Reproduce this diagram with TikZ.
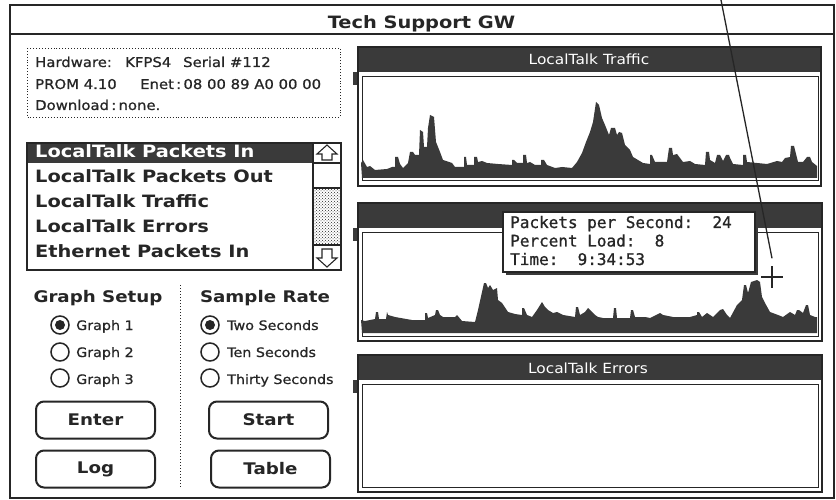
\documentclass[tikz,border=0pt]{standalone}
\usepackage{fontspec}
\setmainfont{DejaVu Sans}
\newfontfamily\chicago{DejaVu Sans}[FakeStretch=1.14]
\newfontfamily\geneva{DejaVu Sans}[FakeStretch=1.1,FakeBold=0.8]
\newfontfamily\genevaw{DejaVu Sans}[FakeStretch=1.1]
\newfontfamily\monaco{DejaVu Sans Mono}[FakeBold=1]
\usetikzlibrary{patterns}
\definecolor{ink}{RGB}{38,38,38}
\definecolor{macdark}{RGB}{58,58,58}
\begin{document}
\begin{tikzpicture}[x=1pt,y=-1pt,
  bigtxt/.style={font=\chicago\bfseries\fontsize{17}{19}\selectfont, text=ink, inner sep=0pt},
  hdr/.style={font=\chicago\bfseries\fontsize{16}{18}\selectfont, text=ink, inner sep=0pt},
  listtxt/.style={font=\chicago\bfseries\fontsize{17}{19}\selectfont, text=ink, inner sep=0pt, anchor=base west},
  small/.style={font=\geneva\fontsize{13.5}{15}\selectfont, text=ink, inner sep=0pt, anchor=base west},
  lbl/.style={font=\geneva\fontsize{13}{15}\selectfont, text=ink, inner sep=0pt, anchor=base west},
  ptitle/.style={font=\genevaw\fontsize{14}{16}\selectfont, text=white, inner sep=0pt, anchor=base},
  mono/.style={font=\monaco\fontsize{16}{18}\selectfont, text=ink, inner sep=0pt, anchor=base west},
  radio/.style={circle, draw=ink, line width=1.5, minimum size=18pt, inner sep=0pt},
  button/.style={draw=ink, line width=2, rounded corners=8pt, minimum width=119pt, minimum height=37pt, inner sep=0pt, font=\chicago\bfseries\fontsize{16}{18}\selectfont, text=ink},
  frameline/.style={draw=ink, line width=1.6},
  innerline/.style={draw=ink, line width=1},
  bar/.style={fill=macdark}
]
\useasboundingbox (0,0) rectangle (836,500);
\fill[white] (0,0) rectangle (836,500);

% window
\draw[ink, line width=1.6] (10,5) rectangle (834,498);
\draw[ink, line width=1.4] (10,34) -- (834,34);
\node[bigtxt, anchor=base] (title) at (421.5,29) {Tech Support GW};

% info box
\draw[ink, dotted, line width=0.9] (27,48) rectangle (340,117);
\node[small] (hw) at (35,67) {Hardware:};
\node[small] (kf) at (125,67) {KFPS4};
\node[small] (ser) at (183,67) {Serial \#112};
\node[small] (prom) at (35,89) {PROM 4.10};
\node[small] (enet) at (140,89) {Enet\,:\,08 00 89 A0 00 00};
\node[small] (dl) at (35,110) {Download\,:\,none.};

% list box
\fill[macdark] (27,143) rectangle (313,163);
\fill[pattern=crosshatch dots, pattern color=ink] (313,188) rectangle (341,245);
\draw[ink, line width=1.5] (27,143) rectangle (341,270);
\draw[ink, line width=1.2] (313,143) -- (313,270);
\draw[ink, line width=1.1] (313,163) -- (341,163) (313,188) -- (341,188) (313,245) -- (341,245);
\draw[ink, line width=1.1] (327,145) -- (337,154) -- (332,154) -- (332,160) -- (322,160) -- (322,154) -- (317,154) -- cycle;
\draw[ink, line width=1.1] (327,267) -- (337,258) -- (332,258) -- (332,249) -- (322,249) -- (322,258) -- (317,258) -- cycle;
\node[listtxt, text=white] (li1) at (35,157.5) {LocalTalk Packets In};
\node[listtxt] (li2) at (35,182.5) {LocalTalk Packets Out};
\node[listtxt] (li3) at (35,207.5) {LocalTalk Traffic};
\node[listtxt] (li4) at (35,232.5) {LocalTalk Errors};
\node[listtxt] (li5) at (35,257.5) {Ethernet Packets In};

% headers
\node[hdr, anchor=base] (gs) at (98,302) {Graph Setup};
\node[hdr, anchor=base] (sr) at (265,302) {Sample Rate};
\draw[ink, dotted, line width=1] (180,285) -- (180,488);

% radios
\node[radio] (ga) at (60,325) {};
\fill[ink] (ga) circle (5);
\node[radio] (gb) at (60,352) {};
\node[radio] (gc) at (60,378) {};
\node[lbl] (gal) at (76,330) {Graph 1};
\node[lbl] (gbl) at (76,357) {Graph 2};
\node[lbl] (gcl) at (76,384) {Graph 3};
\node[radio] (sa) at (210,325) {};
\fill[ink] (sa) circle (5);
\node[radio] (sb) at (210,352) {};
\node[radio] (sc) at (210,378) {};
\node[lbl] (sal) at (227,330) {Two Seconds};
\node[lbl] (sbl) at (227,357) {Ten Seconds};
\node[lbl] (scl) at (227,384) {Thirty Seconds};

% buttons
\node[button] (enter) at (95.5,420) {Enter};
\node[button] (log) at (95.5,469) {Log};
\node[button] (start) at (268.5,420) {Start};
\node[button] (table) at (270.5,469) {Table};

% panel 1
\fill[macdark] (358,47) rectangle (821,72);
\fill[macdark] (353,72) rectangle (359,85);
\draw[frameline] (358,47) rectangle (821,186);
\draw[innerline] (362,77) rectangle (818,181);
\fill[bar] (362,178) -- (361,163) -- (363,160) -- (367,167) -- (370,166) -- (375,170) -- (387,169) -- (392,167) -- (395,167) -- (395,157) -- (398,157) -- (400,164) -- (403,168) -- (408,163) -- (410,152) -- (413,152) -- (415,155) -- (419,155) -- (420,130) -- (423,132) -- (424,147) -- (427,147) -- (428,128) -- (430,115) -- (434,117) -- (436,142) -- (440,152) -- (443,160) -- (452,163) -- (455,167) -- (464,167) -- (464,157) -- (466,157) -- (467,165) -- (474,165) -- (474,157) -- (477,157) -- (478,162) -- (482,161) -- (487,163) -- (498,164) -- (512,165) -- (512,160) -- (514,160) -- (517,163) -- (523,163) -- (523,155) -- (526,155) -- (527,163) -- (530,162) -- (535,165) -- (541,165) -- (541,160) -- (544,160) -- (547,165) -- (555,168) -- (562,167) -- (572,168) -- (577,162) -- (582,153) -- (586,142) -- (590,132) -- (593,122) -- (596,102) -- (599,105) -- (602,118) -- (605,125) -- (609,135) -- (611,128) -- (615,128) -- (617,135) -- (619,132) -- (622,133) -- (625,145) -- (630,150) -- (633,157) -- (643,163) -- (650,164) -- (650,155) -- (652,155) -- (655,162) -- (667,162) -- (669,148) -- (672,148) -- (673,155) -- (677,154) -- (683,162) -- (690,161) -- (695,164) -- (705,165) -- (706,152) -- (709,152) -- (710,160) -- (715,163) -- (717,155) -- (720,155) -- (723,161) -- (726,155) -- (729,155) -- (730,158) -- (733,164) -- (743,165) -- (743,155) -- (746,155) -- (747,162) -- (757,163) -- (767,164) -- (777,161) -- (782,162) -- (785,158) -- (790,157) -- (791,146) -- (794,146) -- (795,150) -- (798,162) -- (803,162) -- (807,157) -- (810,157) -- (812,162) -- (817,166) -- (817,178) -- cycle;
\node[ptitle] (t1) at (589,65) {LocalTalk Traffic};

% panel 2
\fill[macdark] (358,203) rectangle (822,228);
\fill[macdark] (353,228) rectangle (359,241);
\draw[frameline] (358,203) rectangle (822,341);
\draw[innerline] (362,232) rectangle (818,336);
\fill[bar] (362,333) -- (361,320) -- (365,321) -- (375,319) -- (376,312) -- (378,312) -- (379,319) -- (386,319) -- (387,312) -- (388,315) -- (395,317) -- (412,320) -- (425,320) -- (425,313) -- (427,313) -- (428,318) -- (435,315) -- (436,310) -- (438,310) -- (440,315) -- (443,317) -- (455,317) -- (457,315) -- (462,321) -- (475,322) -- (478,310) -- (482,292) -- (484,283) -- (486,283) -- (488,288) -- (490,285) -- (493,290) -- (497,288) -- (498,300) -- (502,303) -- (508,312) -- (515,314) -- (522,315) -- (522,308) -- (524,308) -- (527,315) -- (532,317) -- (537,310) -- (542,302) -- (545,307) -- (548,310) -- (553,313) -- (557,312) -- (563,315) -- (575,317) -- (576,307) -- (578,307) -- (580,315) -- (585,312) -- (588,308) -- (590,310) -- (595,315) -- (598,317) -- (603,318) -- (613,318) -- (614,308) -- (616,308) -- (617,318) -- (630,318) -- (631,310) -- (633,310) -- (635,317) -- (645,317) -- (650,318) -- (660,313) -- (663,315) -- (673,317) -- (690,317) -- (697,315) -- (697,312) -- (699,312) -- (702,317) -- (707,313) -- (713,317) -- (720,310) -- (723,309) -- (727,315) -- (730,318) -- (737,305) -- (742,300) -- (744,285) -- (746,285) -- (748,293) -- (751,282) -- (757,280) -- (760,282) -- (762,297) -- (765,303) -- (770,312) -- (778,315) -- (783,317) -- (790,312) -- (795,315) -- (797,310) -- (799,310) -- (803,313) -- (806,305) -- (808,305) -- (810,315) -- (815,317) -- (817,317) -- (817,333) -- cycle;

% popup
\fill[macdark] (506,215) rectangle (758,275);
\node[draw=ink, line width=1.4, fill=white, minimum width=252pt, minimum height=60pt, inner sep=0pt] (popup) at (629,242) {};
\node[mono] (pps) at (510,228) {Packets per Second:\ \ 24};
\node[mono] (pl) at (510,246.5) {Percent Load:\ \ 8};
\node[mono] (tm) at (510,265) {Time:\ \ 9:34:53};

% panel 3
\fill[macdark] (358,355) rectangle (822,380);
\fill[macdark] (353,380) rectangle (359,393);
\draw[frameline] (358,355) rectangle (822,492);
\draw[innerline] (362,384) rectangle (818,487);
\node[ptitle] (t3) at (588,373) {LocalTalk Errors};

% cursor and leader
\coordinate (lead) at (721,0);
\node[minimum size=21pt, inner sep=0pt] (cursor) at (772,277) {};
\draw[ink, line width=1.6] (cursor.north) -- (cursor.south) (cursor.west) -- (cursor.east);
\draw[ink, line width=1.3] (lead) -- ([yshift=8pt]cursor.north);
\end{tikzpicture}
\end{document}
